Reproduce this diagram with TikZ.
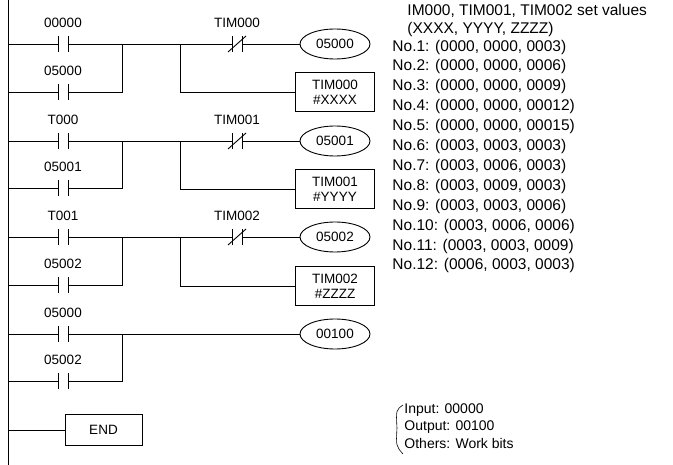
\documentclass[tikz,border=0pt]{standalone}
\usepackage{fontspec}
\setmainfont{Liberation Sans}
\usetikzlibrary{shapes.geometric}
\begin{document}
\begin{tikzpicture}[x=1pt,y=-1pt,line width=0.9pt,
  lab/.style={font=\fontsize{13.5}{15}\selectfont,inner sep=0pt},
  note/.style={font=\fontsize{15.5}{17}\selectfont,inner sep=0pt},
  coil/.style={ellipse,draw,minimum width=70,minimum height=30,font=\fontsize{13.5}{15}\selectfont,inner sep=0pt},
  tbox/.style={draw,minimum width=79,minimum height=39,font=\fontsize{13.5}{15}\selectfont,align=center,inner sep=0pt}]
\useasboundingbox (0,0) rectangle (673,465);
\draw (8,0) -- (8,465);
\newcommand\noc[4]{%
  \coordinate (#1l) at (#2-5,#3); \coordinate (#1r) at (#2+5,#3);
  \draw (#2-5,#3-8) -- (#2-5,#3+8); \draw (#2+5,#3-8) -- (#2+5,#3+8);
  \node[lab] (#1t) at (#2,#3-21) {#4};}
\newcommand\ncc[4]{%
  \noc{#1}{#2}{#3}{#4}\draw (#2-9,#3+8) -- (#2+9,#3-8);}
% rung 1
\noc{a}{63}{44}{00000} \noc{b}{63}{92}{05000} \ncc{c}{237}{44}{TIM000}
\node[coil] (c1) at (335,44) {05000};
\node[tbox] (t1) at (335,92) {TIM000\\\#XXXX};
\draw (8,44) -- (al) (ar) -- (cl) (cr) -- (c1.west);
\draw (8,92) -- (bl) (br) -- (122,92) -- (122,44);
\draw (180,44) |- (t1.west);
% rung 2
\noc{d}{63}{141}{T000} \noc{e}{63}{188}{05001} \ncc{f}{237}{141}{TIM001}
\node[coil] (c2) at (335,141) {05001};
\node[tbox] (t2) at (335,189) {TIM001\\\#YYYY};
\draw (8,141) -- (dl) (dr) -- (fl) (fr) -- (c2.west);
\draw (8,188) -- (el) (er) -- (122,188) -- (122,141);
\draw (180,141) |- (t2.west);
% rung 3
\noc{g}{63}{237}{T001} \noc{h}{63}{285}{05002} \ncc{i}{237}{237}{TIM002}
\node[coil] (c3) at (335,237) {05002};
\node[tbox] (t3) at (335,286) {TIM002\\\#ZZZZ};
\draw (8,237) -- (gl) (gr) -- (il) (ir) -- (c3.west);
\draw (8,285) -- (hl) (hr) -- (122,285) -- (122,237);
\draw (180,237) |- (t3.west);
% rung 4
\noc{j}{63}{334}{05000} \noc{k}{63}{381}{05002}
\node[coil] (c4) at (335,334) {00100};
\draw (8,334) -- (jl) (jr) -- (c4.west);
\draw (8,381) -- (kl) (kr) -- (122,381) -- (122,334);
% END
\node[draw,minimum width=77,minimum height=31,font=\fontsize{13.5}{15}\selectfont] (en) at (103.5,430) {END};
\draw (8,430) -- (en.west);
% notes
\node[note,anchor=west] (h1) at (407,11) {IM000, TIM001, TIM002 set values};
\node[note,anchor=west] (h2) at (407,29) {(XXXX, YYYY, ZZZZ)};
\foreach \t [count=\i] in {(0000, 0000, 0003),(0000, 0000, 0006),(0000, 0000, 0009),(0000, 0000, 00012),(0000, 0000, 00015),(0003, 0003, 0003),(0003, 0006, 0003),(0003, 0009, 0003),(0003, 0003, 0006),(0003, 0006, 0006),(0003, 0003, 0009),(0006, 0003, 0003)}
  \node[note,anchor=west] (n\i) at (392,{47+(\i-1)*19.9}) {No.\i: \t};
\node[lab,anchor=north west,align=left,font=\fontsize{14}{17.5}\selectfont] (io) at (404,403) {Input: 00000\\Output: 00100\\Others: Work bits};
\draw[line width=0.6pt] (403,405) .. controls (396,410) .. (397,428) .. controls (396,446) .. (403,454);
\end{tikzpicture}
\end{document}
